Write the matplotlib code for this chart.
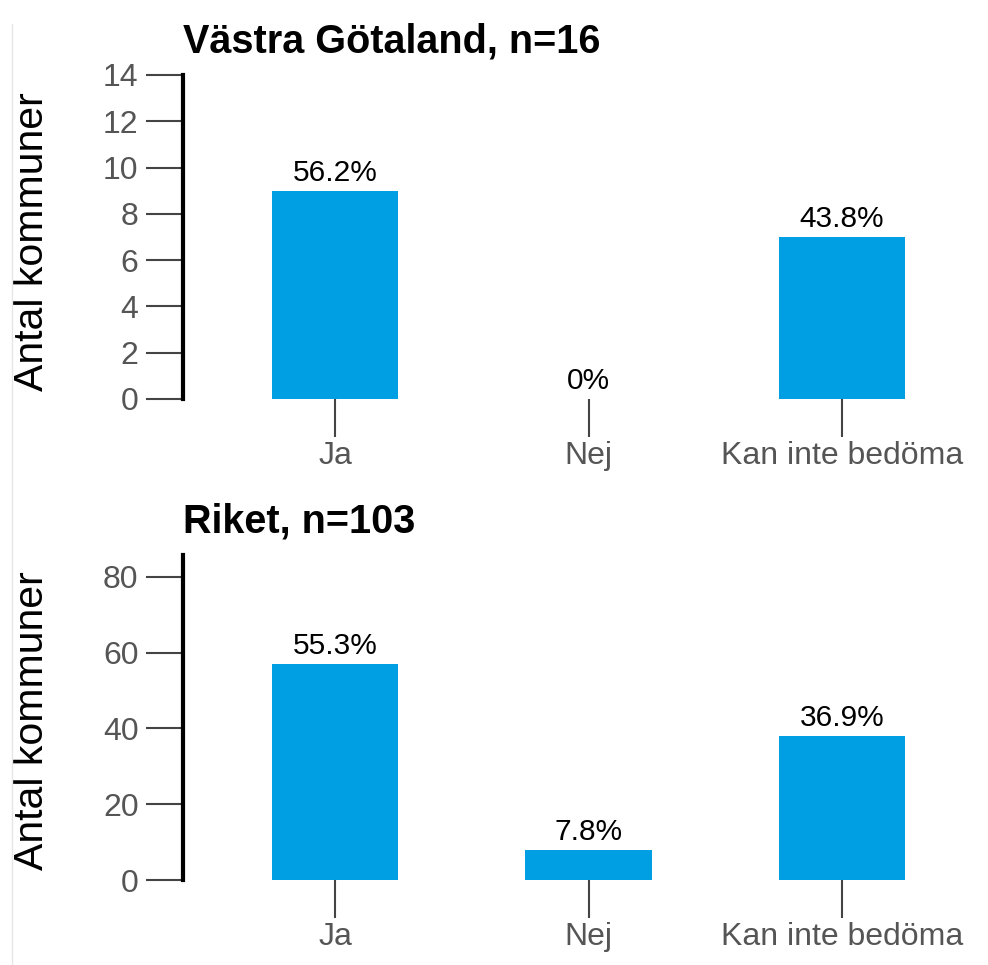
import matplotlib
matplotlib.use("Agg")
import matplotlib.pyplot as plt
from matplotlib.lines import Line2D

categories = ["Ja", "Nej", "Kan inte bedöma"]

vg_title = "Västra Götaland, n=16"
vg_counts = [9, 0, 7]
vg_ylim = 14
vg_yticks = [0, 2, 4, 6, 8, 10, 12, 14]

riket_title = "Riket, n=103"
riket_counts = [57, 8, 38]
riket_ylim = 85.8
riket_yticks = [0, 20, 40, 60, 80]

BAR = "#009fe3"
TICK = "#444444"
LABEL = "#555555"

plt.rcParams["font.family"] = ["Liberation Sans", "DejaVu Sans"]


def pct_label(count, total):
    if count == 0:
        return "0%"
    return f"{100 * count / total:.1f}%"


def draw_panel(ax, title, counts, ylim, yticks, ylab_y):
    total = sum(counts)
    x = list(range(len(categories)))
    ax.bar(x, counts, width=0.5, color=BAR)
    for xi, c in zip(x, counts):
        ax.annotate(pct_label(c, total), (xi, c), xytext=(0, 3),
                    textcoords="offset points", ha="center", va="bottom",
                    fontsize=21.5, color="black")

    ax.set_xlim(-0.6, 2.564)
    ax.set_ylim(0, ylim)
    ax.set_xticks(x)
    ax.set_xticklabels(categories)
    ax.set_yticks(yticks)

    for s in ["top", "right", "bottom"]:
        ax.spines[s].set_visible(False)
    ax.spines["left"].set_linewidth(3)
    ax.spines["left"].set_color("black")

    ax.tick_params(axis="both", length=27, width=1.5, color=TICK,
                   labelcolor=LABEL, labelsize=23)
    ax.tick_params(axis="x", pad=3)
    ax.tick_params(axis="y", pad=5)

    ax.set_ylabel("Antal kommuner", fontsize=29.5, color="black")
    ax.yaxis.set_label_coords(-0.165, ylab_y)
    ax.set_title(title, loc="left", fontsize=28.5, fontweight="bold", pad=16)


fig = plt.figure(figsize=(9.88, 9.65), dpi=100)
ax1 = fig.add_axes([183 / 988, 1 - 399 / 965, 802 / 988, 324 / 965])
ax2 = fig.add_axes([183 / 988, 1 - 880 / 965, 802 / 988, 325 / 965])

draw_panel(ax1, vg_title, vg_counts, vg_ylim, vg_yticks, 0.485)
draw_panel(ax2, riket_title, riket_counts, riket_ylim, riket_yticks, 0.49)

# faint border line at the left edge
fig.add_artist(Line2D([12 / 988, 12 / 988], [0, 0.975], transform=fig.transFigure,
                      color="#e6e6e6", linewidth=1))

fig.savefig("out.png", dpi=100, facecolor="white")
